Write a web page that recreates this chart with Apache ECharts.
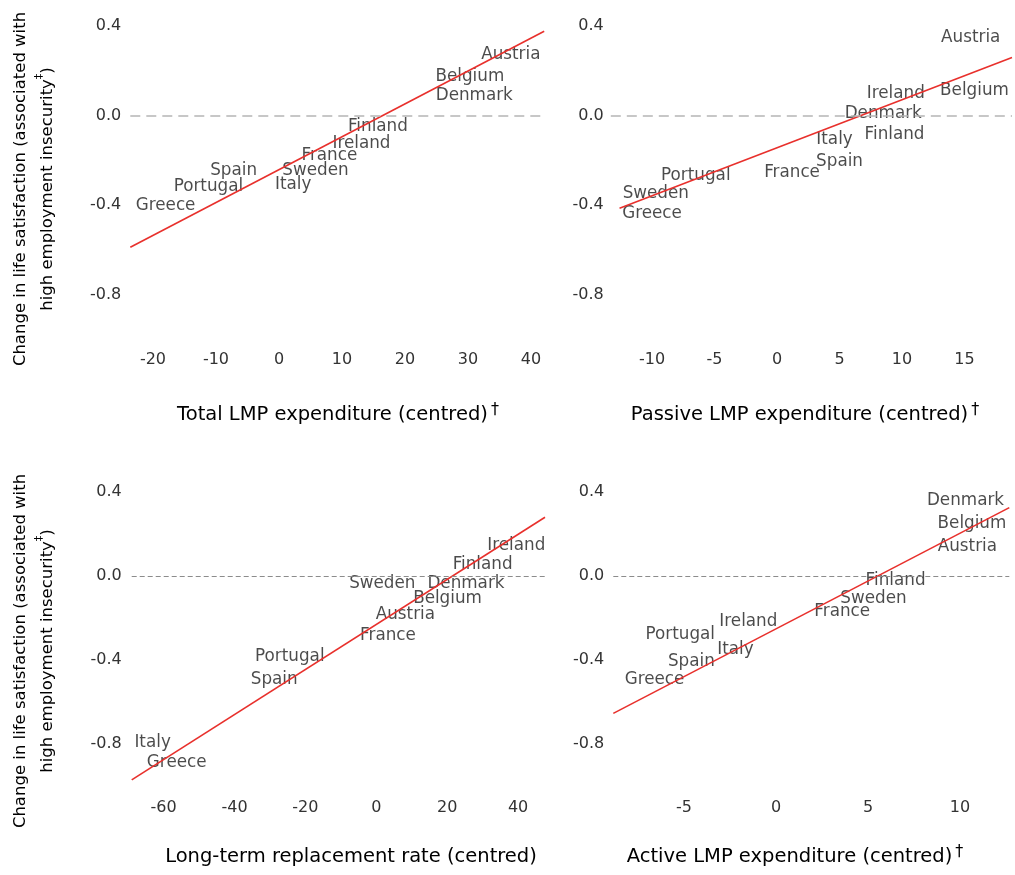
<!DOCTYPE html>
<html><head><meta charset="utf-8">
<script src="https://cdn.jsdelivr.net/npm/echarts@6/dist/echarts.min.js"></script>
<style>html,body{margin:0;padding:0;background:#fff}#c{width:1015px;height:875px}</style>
</head><body><div id="c"></div>
<script>
const countries = ['Austria','Belgium','Denmark','Finland','France','Greece','Ireland','Italy','Portugal','Spain','Sweden'];

// Panel 1: Total LMP expenditure
const totalX = [36.8, 30.3, 31.0, 15.7, 8.0, -18.0, 13.1, 2.25, -11.2, -7.2, 5.8];
const totalY = [0.272, 0.174, 0.091, -0.048, -0.179, -0.403, -0.124, -0.309, -0.316, -0.246, -0.246];
const totalLineX = [-23.6, 42.1];
const totalLineY = [-0.589, 0.377];
const totalTicks = [-20, -10, 0, 10, 20, 30, 40];

// Panel 2: Passive LMP expenditure
const passiveX = [15.5, 15.8, 8.5, 9.4, 1.2, -10.0, 9.5, 4.6, -6.5, 5.0, -9.7];
const passiveY = [0.347, 0.110, 0.007, -0.087, -0.257, -0.441, 0.096, -0.110, -0.271, -0.208, -0.351];
const passiveLineX = [-12.6, 18.8];
const passiveLineY = [-0.415, 0.260];
const passiveTicks = [-10, -5, 0, 5, 10, 15];

// Panel 3: Long-term replacement rate
const replX = [8.2, 20.1, 25.3, 30.0, 3.3, -56.3, 39.5, -63.1, -24.4, -28.8, 1.7];
const replY = [-0.186, -0.106, -0.038, 0.052, -0.286, -0.890, 0.143, -0.795, -0.385, -0.493, -0.038];
const replLineX = [-69.0, 47.6];
const replLineY = [-0.972, 0.280];
const replTicks = [-60, -40, -20, 0, 20, 40];

// Panel 4: Active LMP expenditure
const activeX = [10.4, 10.65, 10.3, 6.5, 3.6, -6.6, -1.5, -2.2, -5.2, -4.6, 5.3];
const activeY = [0.140, 0.251, 0.358, -0.024, -0.170, -0.493, -0.218, -0.351, -0.281, -0.409, -0.106];
const activeLineX = [-8.84, 12.68];
const activeLineY = [-0.655, 0.326];
const activeTicks = [-5, 0, 5, 10];

const yTicks = [-0.8, -0.4, 0.0, 0.4];

const FONT = 'DejaVu Sans';
const panels = [
  {xs: totalX, ys: totalY, lx: totalLineX, ly: totalLineY, ticks: totalTicks, xr: [-23.6, 42.1],
   grid: {left: 130.3, top: 14.9, width: 413.9, height: 335.4}, xm: 2, ym: 9, dash: 'top'},
  {xs: passiveX, ys: passiveY, lx: passiveLineX, ly: passiveLineY, ticks: passiveTicks, xr: [-13.3, 18.8],
   grid: {left: 610.8, top: 14.9, width: 401.2, height: 335.4}, xm: 2, ym: 7, dash: 'top'},
  {xs: replX, ys: replY, lx: replLineX, ly: replLineY, ticks: replTicks, xr: [-69.0, 47.6],
   grid: {left: 131.7, top: 481.6, width: 413.3, height: 314.6}, xm: 4, ym: 10, dash: 'bottom'},
  {xs: activeX, ys: activeY, lx: activeLineX, ly: activeLineY, ticks: activeTicks, xr: [-8.84, 12.68],
   grid: {left: 613.3, top: 481.6, width: 396, height: 314.6}, xm: 4, ym: 9, dash: 'bottom'}
];

const grids = [], xAxes = [], yAxes = [], series = [];
panels.forEach((p, i) => {
  grids.push(Object.assign({containLabel: false, outerBoundsMode: 'none'}, p.grid));
  xAxes.push({
    type: 'value', gridIndex: i, min: p.xr[0], max: p.xr[1],
    axisLine: {show: false}, axisTick: {show: false}, splitLine: {show: false},
    axisLabel: {customValues: p.ticks, margin: p.xm, color: '#333', fontFamily: FONT, fontSize: 16,
      formatter: v => String(v)}
  });
  yAxes.push({
    type: 'value', gridIndex: i, min: -1.05, max: 0.45,
    axisLine: {show: false}, axisTick: {show: false}, splitLine: {show: false},
    axisLabel: {customValues: yTicks, margin: p.ym, color: '#333', fontFamily: FONT, fontSize: 16,
      formatter: v => v.toFixed(1)}
  });
  const top = p.dash === 'top';
  series.push({
    type: 'line', xAxisIndex: i, yAxisIndex: i, symbol: 'none', silent: true, z: 1,
    data: [], lineStyle: {opacity: 0},
    markLine: {
      silent: true, symbol: ['none', 'none'], label: {show: false},
      lineStyle: {color: top ? '#b5b5b5' : '#8c8c8c', width: top ? 1.6 : 1.1, type: top ? [10, 6] : [5, 3]},
      data: [{yAxis: 0}], animation: false
    }
  });
  series.push({
    type: 'scatter', xAxisIndex: i, yAxisIndex: i, symbolSize: 1, silent: true, z: 2,
    itemStyle: {color: 'rgba(0,0,0,0)'},
    data: countries.map((c, k) => ({value: [p.xs[k], p.ys[k]], name: c})),
    label: {show: true, position: 'inside', formatter: d => d.name, color: '#1e1e1e',
      fontFamily: FONT, fontSize: 16.8}
  });
  series.push({
    type: 'line', xAxisIndex: i, yAxisIndex: i, symbol: 'none', silent: true, z: 3,
    data: [[p.lx[0], p.ly[0]], [p.lx[1], p.ly[1]]],
    lineStyle: {color: '#e8302c', width: 1.6}
  });
});

const supRich = {sup: {fontSize: 16, verticalAlign: 'top', fontFamily: FONT, fill: '#000', padding: [0, 0, 10, 3]}};
function xTitle(txt, x, y) {
  return {type: 'text', x: x, y: y, silent: true,
    style: {text: txt, fontFamily: FONT, fontSize: 19.5, fill: '#000', align: 'center', verticalAlign: 'middle', rich: supRich}};
}
function yTitle(y) {
  return {type: 'text', x: 34, y: y, rotation: Math.PI / 2, silent: true,
    style: {text: 'Change in life satisfaction (associated with\nhigh employment insecurity{sup|‡})',
      fontFamily: FONT, fontSize: 16.5, lineHeight: 27, fill: '#000', align: 'center', verticalAlign: 'middle',
      rich: {sup: {fontSize: 11, verticalAlign: 'top', fontFamily: FONT, fill: '#000', padding: [0, 0, 6, 0]}}}};
}

const chart = echarts.init(document.getElementById('c'), null, {renderer: 'canvas'});
chart.setOption({
  animation: false,
  backgroundColor: '#fff',
  grid: grids, xAxis: xAxes, yAxis: yAxes, series: series,
  graphic: [
    xTitle('Total LMP expenditure (centred){sup|†}', 338, 415),
    xTitle('Passive LMP expenditure (centred){sup|†}', 805, 415),
    xTitle('Long-term replacement rate (centred)', 351, 857),
    xTitle('Active LMP expenditure (centred){sup|†}', 795, 857),
    yTitle(189), yTitle(651)
  ]
});
</script></body></html>
